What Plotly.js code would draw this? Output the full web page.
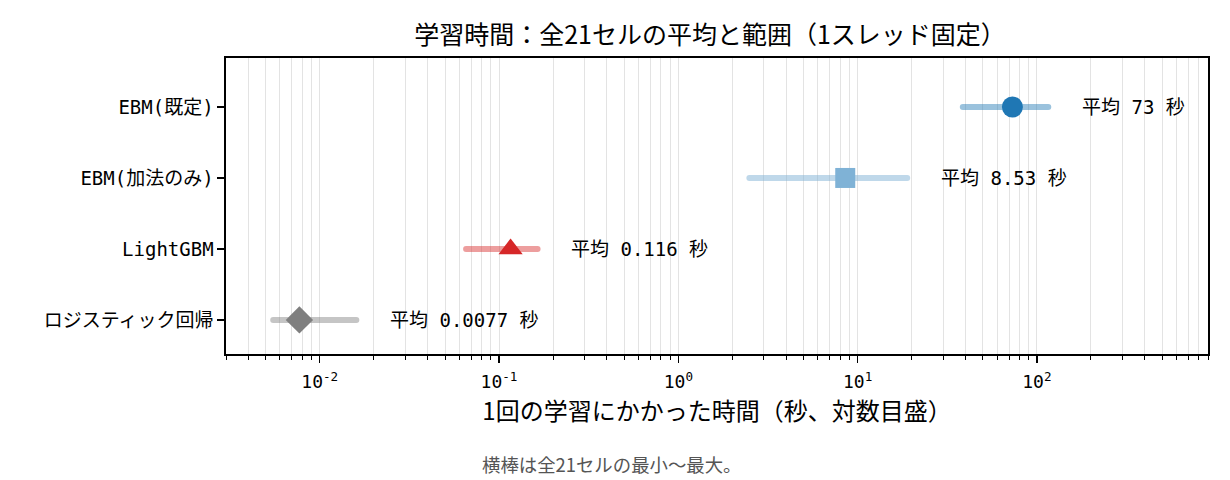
<!DOCTYPE html>
<html>
<head>
<meta charset="utf-8">
<script src="https://cdn.plot.ly/plotly-3.0.1.min.js"></script>
<style>
html,body{margin:0;padding:0;background:#fff;}
#chart{width:1230px;height:480px;}
.js-line{stroke-linecap:round;}
</style>
</head>
<body>
<div id="chart"></div>
<script>
// ---- data ----
const models = ['ロジスティック回帰', 'LightGBM', 'EBM(加法のみ)', 'EBM(既定)'];
const meanSec = [0.0077, 0.116, 8.53, 73];
const minSec = [0.0055, 0.0655, 2.49, 38.6];
const maxSec = [0.016, 0.164, 18.9, 115.7];
const markerSymbols = ['diamond', 'triangle-up', 'square', 'circle'];
const markerColors = ['#7f7f7f', '#d62728', '#7fb2d6', '#1f77b4'];
const rangeColors = ['rgba(127,127,127,0.45)', 'rgba(214,39,40,0.45)', 'rgba(127,178,214,0.5)', 'rgba(31,119,180,0.45)'];
const markerSizes = [21, 21, 20, 21];
const titleText = '学習時間：全21セルの平均と範囲（1スレッド固定）';
const xTitleText = '1回の学習にかかった時間（秒、対数目盛）';
const noteText = '横棒は全21セルの最小～最大。';
const majorTicks = [0.01, 0.1, 1, 10, 100];
const majorTickText = ['10<sup>-2</sup>', '10<sup>-1</sup>', '10<sup>0</sup>', '10<sup>1</sup>', '10<sup>2</sup>'];

const monoFont = "'DejaVu Sans Mono', 'Noto Sans CJK JP', monospace";
const propFont = "'Noto Sans CJK JP', 'Noto Sans', sans-serif";

function fmtG(v) { return String(parseFloat(v.toPrecision(3))); }

const traces = [];
models.forEach((m, i) => {
  traces.push({
    type: 'scatter', mode: 'lines',
    x: [minSec[i], maxSec[i]], y: [i, i],
    line: { color: rangeColors[i], width: 6 },
    hoverinfo: 'skip', showlegend: false
  });
});
models.forEach((m, i) => {
  traces.push({
    type: 'scatter', mode: 'markers',
    x: [meanSec[i]], y: [i],
    marker: { symbol: markerSymbols[i], color: markerColors[i], size: markerSizes[i], line: { width: 0 } },
    showlegend: false
  });
});

// minor tick positions (2..9 in each decade)
const minorVals = [];
for (let e = -3; e <= 2; e++) {
  for (let d = 2; d <= 9; d++) minorVals.push(d * Math.pow(10, e));
}

const annotations = models.map((m, i) => ({
  x: Math.log10(maxSec[i] * 1.5), y: i, xref: 'x', yref: 'y',
  text: '平均 ' + fmtG(meanSec[i]) + ' 秒',
  showarrow: false, xanchor: 'left', yanchor: 'middle',
  font: { family: monoFont, size: 19, color: '#000' }
}));
annotations.push({
  x: (612 - 226) / 982, y: -0.372, xref: 'paper', yref: 'paper',
  text: noteText, showarrow: false, xanchor: 'center', yanchor: 'middle',
  font: { family: propFont, size: 18.4, color: '#555' }
});

const layout = {
  width: 1230, height: 480,
  margin: { l: 226, r: 22, t: 58, b: 126 },
  paper_bgcolor: '#fff', plot_bgcolor: '#fff',
  title: {
    text: titleText, x: (710 - 226) / 982, xref: 'paper', xanchor: 'center', y: 1 - 35 / 480, yanchor: 'middle',
    font: { family: propFont, size: 25, color: '#000' }
  },
  xaxis: {
    type: 'log',
    range: [Math.log10(0.003), Math.log10(900)],
    tickvals: majorTicks, ticktext: majorTickText,
    ticks: 'outside', ticklen: 7, tickwidth: 1.2, tickcolor: '#000',
    ticklabelstandoff: 4,
    showgrid: true, gridcolor: '#e3e3e3', gridwidth: 1,
    minor: { tickvals: minorVals, ticks: 'outside', ticklen: 4, tickwidth: 1, tickcolor: '#000', showgrid: true, gridcolor: '#e3e3e3', gridwidth: 1 },
    showline: true, linecolor: '#000', linewidth: 1.6, mirror: true,
    zeroline: false,
    tickfont: { family: monoFont, size: 18, color: '#000' },
    title: { text: xTitleText, standoff: 10, font: { family: propFont, size: 24, color: '#000' } }
  },
  yaxis: {
    range: [-0.48, 3.69],
    tickvals: models.map((m, i) => i), ticktext: models,
    ticks: 'outside', ticklen: 7, tickwidth: 1.2, tickcolor: '#000',
    showgrid: false, zeroline: false,
    showline: true, linecolor: '#000', linewidth: 1.6, mirror: true,
    tickfont: { family: monoFont, size: 19, color: '#000' }
  },
  annotations: annotations,
  showlegend: false
};

Plotly.newPlot('chart', traces, layout, { displayModeBar: false, staticPlot: true });
</script>
</body>
</html>
